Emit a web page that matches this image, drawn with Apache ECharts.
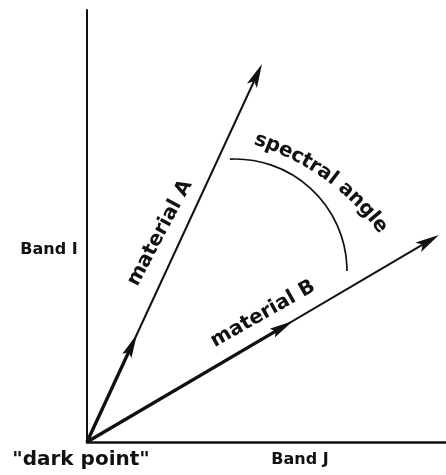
<!DOCTYPE html>
<html><head><meta charset="utf-8">
<script src="https://cdn.jsdelivr.net/npm/echarts@6/dist/echarts.min.js"></script>
<style>html,body{margin:0;padding:0;background:#fff}#c{width:446px;height:475px}</style>
</head><body><div id="c"></div>
<script>
// ---- data (units: Band J on x, Band I on y) ----
const bandJRange = [0, 359];
const bandIRange = [0, 432];
const axisNames = ['Band J', 'Band I'];
const vectorNames = ['material A', 'material B'];
const vectorTips = [[175, 378], [352, 207]];
const midArrowTips = [[50, 108], [206, 121]];
const angleArcCenter = [[148, 171]];
const angleArcRadius = 112;
const angleArcSpanDeg = [0, 92.6];
const originLabel = '"dark point"';
const arcLabel = 'spectral angle';

const FONT = '"DejaVu Sans", "Liberation Sans", Arial, sans-serif';
const INK = '#111';
const chart = echarts.init(document.getElementById('c'), null, {renderer: 'canvas'});

function arrowRender(lineWidth, headLen, headHalf, notchDepth) {
  return function (params, api) {
    const p0 = api.coord([0, 0]);
    const p1 = api.coord([api.value(0), api.value(1)]);
    const dx = p1[0] - p0[0], dy = p1[1] - p0[1];
    const len = Math.hypot(dx, dy);
    const ux = dx / len, uy = dy / len, nx = -uy, ny = ux;
    const bx = p1[0] - ux * headLen, by = p1[1] - uy * headLen;
    const notch = [p1[0] - ux * (headLen - notchDepth), p1[1] - uy * (headLen - notchDepth)];
    return {type: 'group', children: [
      {type: 'line', shape: {x1: p0[0], y1: p0[1], x2: notch[0], y2: notch[1]},
       style: {stroke: INK, lineWidth: lineWidth}},
      {type: 'polygon', shape: {points: [p1, [bx + nx * headHalf, by + ny * headHalf], notch, [bx - nx * headHalf, by - ny * headHalf]]},
       style: {fill: INK}}
    ]};
  };
}

function arcRender(params, api) {
  const c = api.coord([api.value(0), api.value(1)]);
  const e = api.coord([api.value(0) + angleArcRadius, api.value(1)]);
  const r = e[0] - c[0];
  return {type: 'arc', shape: {cx: c[0], cy: c[1], r: r,
      startAngle: -angleArcSpanDeg[1] * Math.PI / 180, endAngle: -angleArcSpanDeg[0] * Math.PI / 180, clockwise: true},
    style: {stroke: INK, fill: null, lineWidth: 1.7}};
}

chart.setOption({
  backgroundColor: '#fff',
  animation: false,
  grid: {left: 87, right: 0, top: 10, bottom: 33},
  xAxis: {type: 'value', min: bandJRange[0], max: bandJRange[1], name: '',
    axisLine: {show: true, lineStyle: {color: INK, width: 2.5}}, axisTick: {show: false},
    axisLabel: {show: false}, splitLine: {show: false}},
  yAxis: {type: 'value', min: bandIRange[0], max: bandIRange[1], name: '',
    axisLine: {show: true, lineStyle: {color: INK, width: 2}}, axisTick: {show: false},
    axisLabel: {show: false}, splitLine: {show: false}},
  series: [
    {type: 'custom', name: 'vectors', clip: false, renderItem: arrowRender(2, 24, 5.5, 5),
     encode: {x: 0, y: 1}, data: vectorTips.map((p, i) => ({name: vectorNames[i], value: p}))},
    {type: 'custom', name: 'mid arrows', clip: false, renderItem: arrowRender(3.4, 24, 5, 4),
     encode: {x: 0, y: 1}, data: midArrowTips.map((p, i) => ({name: vectorNames[i], value: p}))},
    {type: 'custom', name: 'angle', clip: false, renderItem: arcRender,
     encode: {x: 0, y: 1}, data: angleArcCenter}
  ]
});

// ---- text annotations ----
const measure = document.createElement('canvas').getContext('2d');
function txt(text, x, y, size, rotDeg) {
  return {type: 'text', x: x, y: y, rotation: (rotDeg || 0) * Math.PI / 180,
    style: {text: text, font: 'bold ' + size + 'px ' + FONT, fill: INK, align: 'center', verticalAlign: 'middle'}};
}
const g = [];
g.push(txt(axisNames[1], 49, 250, 16));
g.push(txt(axisNames[0], 300, 460, 16));
g.push(txt(originLabel, 81, 460, 20));
g.push(txt(vectorNames[0], 160, 233, 20, 62));
g.push(txt(vectorNames[1], 263, 314, 20, 29.5));

// curved label along an arc
const curveC = [181.5, 378], curveR = 250, curveMidDeg = -54.5, cSize = 20;
measure.font = 'bold ' + cSize + 'px ' + FONT;
const widths = arcLabel.split('').map(ch => measure.measureText(ch).width);
const total = widths.reduce((a, b) => a + b, 0);
let acc = -total / 2;
arcLabel.split('').forEach((ch, i) => {
  const s = acc + widths[i] / 2;
  acc += widths[i];
  const th = curveMidDeg * Math.PI / 180 + s / curveR;
  const x = curveC[0] + curveR * Math.cos(th), y = curveC[1] + curveR * Math.sin(th);
  const phi = th + Math.PI / 2;
  if (ch !== ' ') g.push(txt(ch, x, y, cSize, -phi * 180 / Math.PI));
});
chart.setOption({graphic: {elements: g}});
</script></body></html>
